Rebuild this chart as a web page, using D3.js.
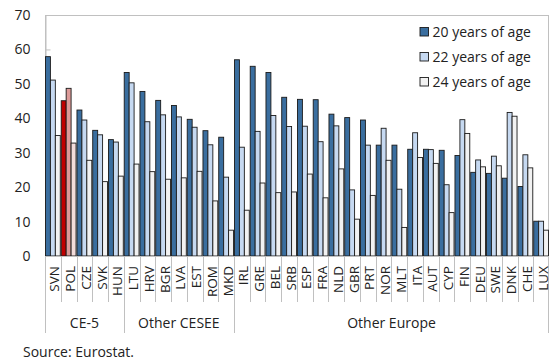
<!DOCTYPE html>
<html>
<head>
<meta charset="utf-8">
<script src="https://cdn.jsdelivr.net/npm/d3@7"></script>
<style>
  html, body { margin: 0; padding: 0; background: #fff; }
  svg { display: block; font-family: "Open Sans", "Noto Sans", sans-serif; }
</style>
</head>
<body>
<svg id="chart" width="557" height="362"></svg>
<script>
// Share of young people living with parents, by age (per cent)
const countries = ["SVN","POL","CZE","SVK","HUN","LTU","HRV","BGR","LVA","EST","ROM","MKD",
  "IRL","GRE","BEL","SRB","ESP","FRA","NLD","GBR","PRT","NOR","MLT","ITA","AUT","CYP",
  "FIN","DEU","SWE","DNK","CHE","LUX"];
const groupNames = ["CE-5", "Other CESEE", "Other Europe"];
const groupSizes = [5, 7, 20];
const seriesNames = ["20 years of age", "22 years of age", "24 years of age"];
const age20 = [57.9,45.1,42.4,36.5,33.8,53.3,47.8,45.2,43.7,39.7,36.4,34.5,
  57.0,55.1,53.3,46.1,45.5,45.4,41.2,40.2,39.5,32.2,32.2,31.0,31.0,30.7,
  29.2,24.3,24.0,22.6,20.2,10.1];
const age22 = [51.1,48.7,39.5,35.2,33.1,50.3,39.0,41.0,40.4,37.4,32.3,22.9,
  31.6,36.2,40.8,37.6,37.7,33.2,37.8,19.2,32.2,37.1,19.4,35.8,30.9,20.7,
  39.6,27.9,29.0,41.7,29.4,10.1];
const age24 = [35.0,32.8,27.8,21.6,23.2,26.7,24.5,22.3,22.7,24.6,16.0,7.5,
  13.3,21.2,18.4,18.6,23.8,16.9,25.3,10.7,17.6,27.8,8.3,28.6,26.9,12.6,
  35.6,25.9,26.2,40.6,25.6,7.5];
const yTicks = [0,10,20,30,40,50,60,70];
const highlight = "POL";

const colors = ["#3a6e9f", "#c6d9f1", "#f2f2f2"];
const highlightColors = ["#c00000", "#dc9a98", "#f2dcdb"];

const svg = d3.select("#chart");
const plotLeft = 45, plotRight = 549, plotTop = 15, plotBottom = 256;

const x0 = d3.scaleBand().domain(countries).range([plotLeft, plotRight])
  .paddingInner(0.06).paddingOuter(0.03);
const x1 = d3.scaleBand().domain(d3.range(3)).range([0, x0.bandwidth()]);
const y = d3.scaleLinear().domain([0, 70]).range([plotBottom, plotTop]);
const edge = d => x0(d) - x0.step() * 0.03;

// plot frame
svg.append("rect")
  .attr("x", plotLeft + 0.5).attr("y", plotTop + 0.5)
  .attr("width", plotRight - plotLeft - 1).attr("height", plotBottom - plotTop)
  .attr("fill", "none").attr("stroke", "#c0c0c0").attr("stroke-width", 1);

// y axis
const yAxis = svg.append("g")
  .attr("transform", `translate(${plotLeft + 0.5},0)`)
  .call(d3.axisLeft(y).tickValues(yTicks).tickSizeInner(-5).tickSizeOuter(0).tickPadding(15));
yAxis.select(".domain").attr("stroke", "#c0c0c0");
yAxis.selectAll(".tick line").attr("stroke", "#c0c0c0");
yAxis.selectAll(".tick text").attr("font-size", 14).attr("fill", "#222")
  .attr("font-family", "'Open Sans', sans-serif");

// bars
const series = [age20, age22, age24];
const rows = countries.map((c, i) => ({ c, vals: series.map(s => s[i]) }));
const g = svg.append("g");
rows.forEach(r => {
  r.vals.forEach((v, k) => {
    const pal = r.c === highlight ? highlightColors : colors;
    g.append("rect")
      .attr("x", x0(r.c) + x1(k))
      .attr("y", y(v))
      .attr("width", x1.bandwidth())
      .attr("height", y(0) - y(v))
      .attr("fill", pal[k])
      .attr("stroke", "#1a1a1a")
      .attr("stroke-width", 0.9);
  });
});

// baseline
svg.append("line")
  .attr("x1", plotLeft).attr("x2", plotRight)
  .attr("y1", plotBottom + 0.5).attr("y2", plotBottom + 0.5)
  .attr("stroke", "#c0c0c0");

// category separators (longer at group edges)
const groupStarts = [0, ...d3.cumsum(groupSizes)];
countries.forEach((c, i) => {
  const isGroupEdge = groupStarts.includes(i);
  const xx = Math.round(edge(c)) + 0.5;
  svg.append("line")
    .attr("x1", xx).attr("x2", xx)
    .attr("y1", plotBottom).attr("y2", isGroupEdge ? 333 : 302)
    .attr("stroke", "#c0c0c0");
});
svg.append("line")
  .attr("x1", plotRight - 0.5).attr("x2", plotRight - 0.5)
  .attr("y1", plotBottom).attr("y2", 333)
  .attr("stroke", "#c0c0c0");

// category labels
svg.append("g").selectAll("text").data(countries).join("text")
  .attr("transform", d => `translate(${x0(d) + x0.bandwidth() / 2 + 6.5},266) rotate(-90)`)
  .attr("text-anchor", "end")
  .attr("font-size", 13.5).attr("fill", "#222")
  .text(d => d);

// group labels
groupNames.forEach((name, i) => {
  const a = edge(countries[groupStarts[i]]);
  const b = i + 1 < groupNames.length ? edge(countries[groupStarts[i + 1]]) : plotRight;
  svg.append("text")
    .attr("x", (a + b) / 2).attr("y", 328)
    .attr("text-anchor", "middle")
    .attr("font-size", 14).attr("fill", "#222")
    .text(name);
});

// legend
const leg = svg.append("g");
seriesNames.forEach((name, k) => {
  const cy = 31.5 + k * 25;
  leg.append("rect")
    .attr("x", 420).attr("y", cy - 4)
    .attr("width", 8.5).attr("height", 8.5)
    .attr("fill", colors[k]).attr("stroke", "#1a1a1a").attr("stroke-width", 0.9);
  leg.append("text")
    .attr("x", 432.5).attr("y", cy + 5)
    .attr("font-size", 14).attr("fill", "#222")
    .text(name);
});

// source note
svg.append("text")
  .attr("x", 23).attr("y", 357)
  .attr("font-size", 14).attr("fill", "#222")
  .text("Source: Eurostat.");
</script>
</body>
</html>
